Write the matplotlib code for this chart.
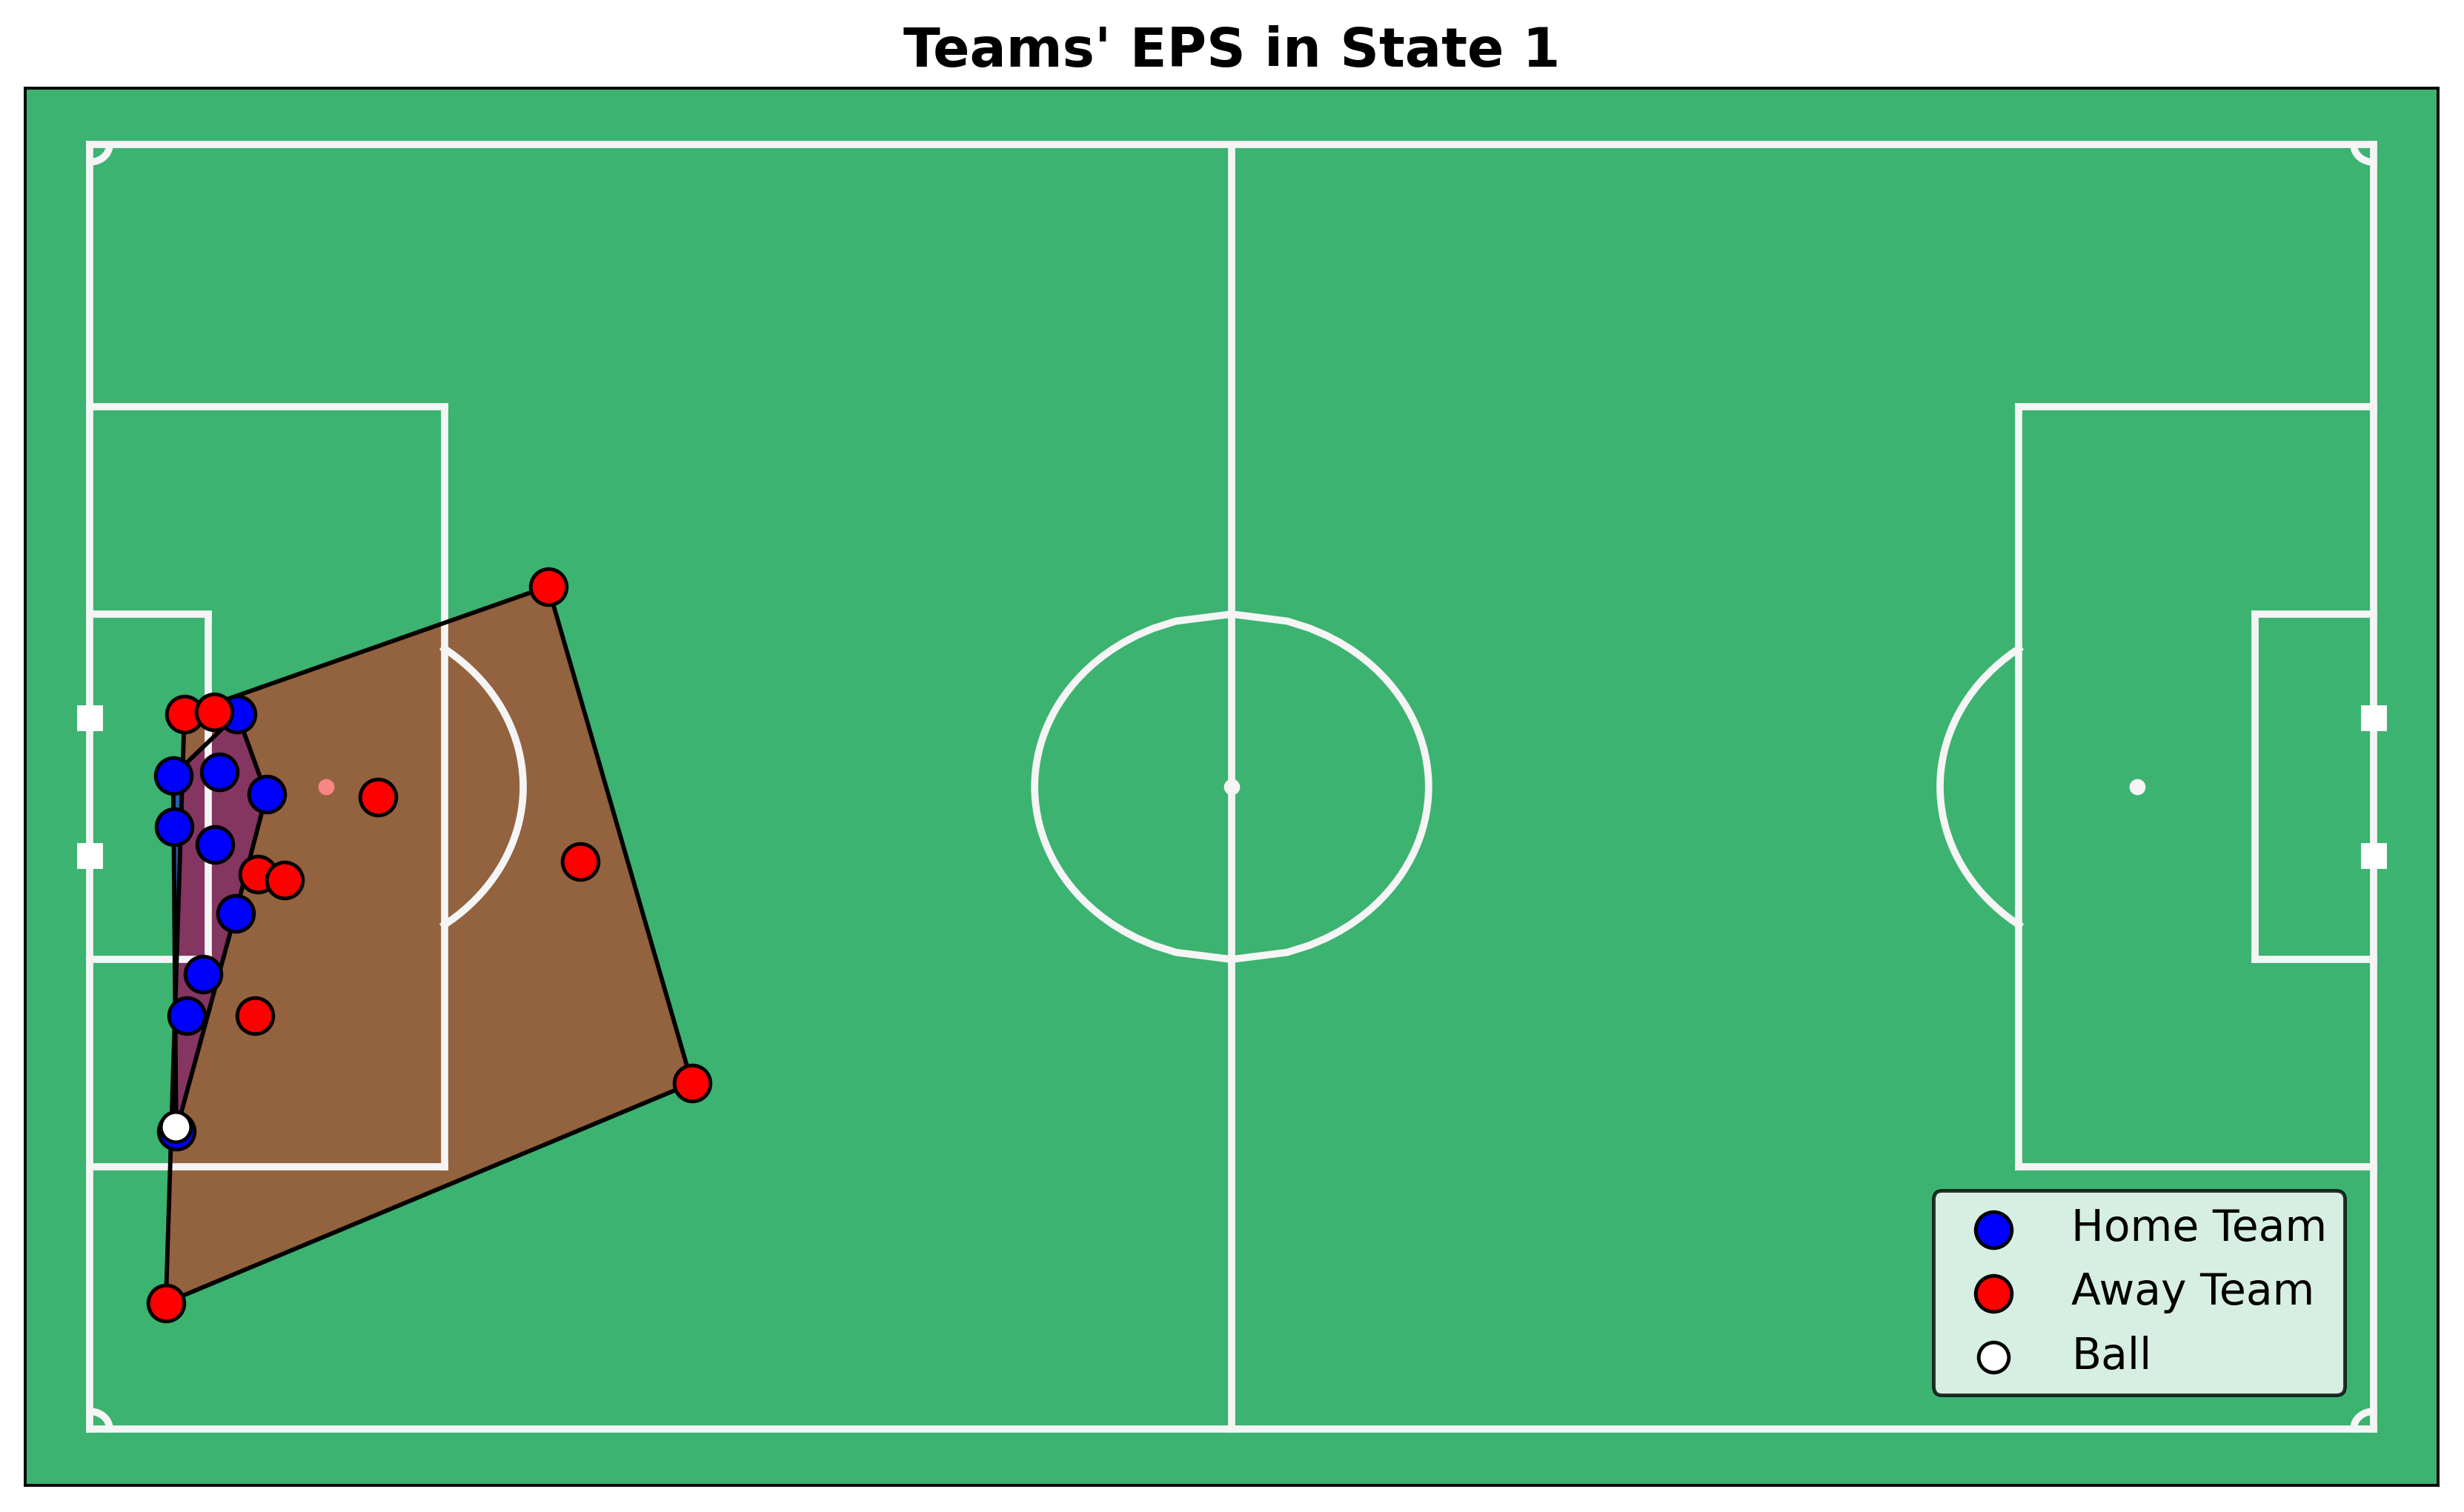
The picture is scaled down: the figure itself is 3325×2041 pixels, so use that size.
import numpy as np
import matplotlib.pyplot as plt

# pitch (metres), origin at the centre spot
field_dimen = (106.0, 68.0)
border = 3.0

# player positions in state 1 (metres)
home_x = [-46.15, -49.13, -46.99, -44.80, -49.09, -47.20, -46.24, -47.73, -48.51, -48.99]
home_y = [3.84, 0.59, 0.77, -0.41, -2.13, -3.08, -6.72, -9.93, -12.13, -18.23]
away_x = [-48.61, -47.23, -39.64, -45.20, -43.97, -45.35, -49.47, -31.73, -30.24, -25.05]
away_y = [3.84, 3.97, -0.54, -4.63, -4.96, -12.13, -27.33, 10.61, -3.97, -15.70]
ball_x = [-49.01]
ball_y = [-17.99]


def convex_hull(xs, ys):
    # monotone chain, closed list of vertices
    pts = sorted(set(zip(xs, ys)))

    def cross(o, a, b):
        return (a[0] - o[0]) * (b[1] - o[1]) - (a[1] - o[1]) * (b[0] - o[0])

    lower = []
    for p in pts:
        while len(lower) >= 2 and cross(lower[-2], lower[-1], p) <= 0:
            lower.pop()
        lower.append(p)
    upper = []
    for p in reversed(pts):
        while len(upper) >= 2 and cross(upper[-2], upper[-1], p) <= 0:
            upper.pop()
        upper.append(p)
    hull = lower[:-1] + upper[:-1]
    hull.append(hull[0])
    return [p[0] for p in hull], [p[1] for p in hull]


def draw_pitch(ax, lw=2, ms=20):
    ax.set_facecolor('mediumseagreen')
    lc = 'whitesmoke'
    yd = 0.9144
    hl = field_dimen[0] / 2.
    hw = field_dimen[1] / 2.
    goal_w = 8 * yd
    box_w, box_l = 20 * yd, 6 * yd
    area_w, area_l = 44 * yd, 18 * yd
    pen = 12 * yd
    corner_r = 1 * yd
    d_len, d_rad, d_pos = 8 * yd, 10 * yd, 12 * yd
    circ_r = 10 * yd

    # halfway line, centre spot, centre circle
    ax.plot([0, 0], [-hw, hw], lc, lw=lw)
    ax.scatter(0.0, 0.0, marker='o', facecolor=lc, linewidth=0, s=ms)
    y = np.linspace(-1, 1, 50) * circ_r
    x = np.sqrt(circ_r ** 2 - y ** 2)
    ax.plot(x, y, lc, lw=lw)
    ax.plot(-x, y, lc, lw=lw)

    for s in (-1, 1):
        ax.plot([-hl, hl], [s * hw, s * hw], lc, lw=lw)
        ax.plot([s * hl, s * hl], [-hw, hw], lc, lw=lw)
        # goal posts
        ax.plot([s * hl, s * hl], [-goal_w / 2., goal_w / 2.], 'ws', markersize=6 * ms / 20., lw=lw)
        # 6 yard box
        ax.plot([s * hl, s * hl - s * box_l], [box_w / 2., box_w / 2.], lc, lw=lw)
        ax.plot([s * hl, s * hl - s * box_l], [-box_w / 2., -box_w / 2.], lc, lw=lw)
        ax.plot([s * hl - s * box_l, s * hl - s * box_l], [-box_w / 2., box_w / 2.], lc, lw=lw)
        # penalty area
        ax.plot([s * hl, s * hl - s * area_l], [area_w / 2., area_w / 2.], lc, lw=lw)
        ax.plot([s * hl, s * hl - s * area_l], [-area_w / 2., -area_w / 2.], lc, lw=lw)
        ax.plot([s * hl - s * area_l, s * hl - s * area_l], [-area_w / 2., area_w / 2.], lc, lw=lw)
        # penalty spot
        ax.scatter(s * hl - s * pen, 0.0, marker='o', facecolor=lc, linewidth=0, s=ms)
        # corners
        y = np.linspace(0, 1, 50) * corner_r
        x = np.sqrt(corner_r ** 2 - y ** 2)
        ax.plot(s * hl - s * x, -hw + y, lc, lw=lw)
        ax.plot(s * hl - s * x, hw - y, lc, lw=lw)
        # the D
        y = np.linspace(-1, 1, 50) * d_len
        x = np.sqrt(d_rad ** 2 - y ** 2) + d_pos
        ax.plot(s * hl - s * x, y, lc, lw=lw)

    ax.set_xticks([])
    ax.set_yticks([])
    ax.set_xlim(-hl - border, hl + border)
    ax.set_ylim(-hw - border, hw + border)


fig = plt.figure(figsize=(3325 / 350, 2041 / 350), dpi=350)
ax = fig.add_axes([34 / 3325, 36 / 2041, 3256 / 3325, 1886 / 2041])
draw_pitch(ax)

# team areas (convex hulls)
hx, hy = convex_hull(home_x, home_y)
ax.fill(hx, hy, color='blue', alpha=0.45, lw=0, zorder=1.5)
axx, ayy = convex_hull(away_x, away_y)
ax.fill(axx, ayy, color='red', alpha=0.45, lw=0, zorder=1.6)
ax.plot(hx, hy, color='black', lw=1.2, zorder=3)
ax.plot(axx, ayy, color='black', lw=1.2, zorder=3)

ax.scatter(home_x, home_y, s=100, c='blue', edgecolors='black', linewidths=1.0, zorder=4, label='Home Team')
ax.scatter(away_x, away_y, s=100, c='red', edgecolors='black', linewidths=1.0, zorder=4, label='Away Team')
ax.scatter(ball_x, ball_y, s=70, c='white', edgecolors='black', linewidths=1.0, zorder=5, label='Ball')

ax.set_title("Teams' EPS in State 1", fontsize=15, fontweight='bold')
ax.legend(loc='lower right', bbox_to_anchor=(0.9613, 0.0647), borderaxespad=0,
          fontsize=12, facecolor='white', edgecolor='black')

fig.savefig('out.png', dpi=350)
